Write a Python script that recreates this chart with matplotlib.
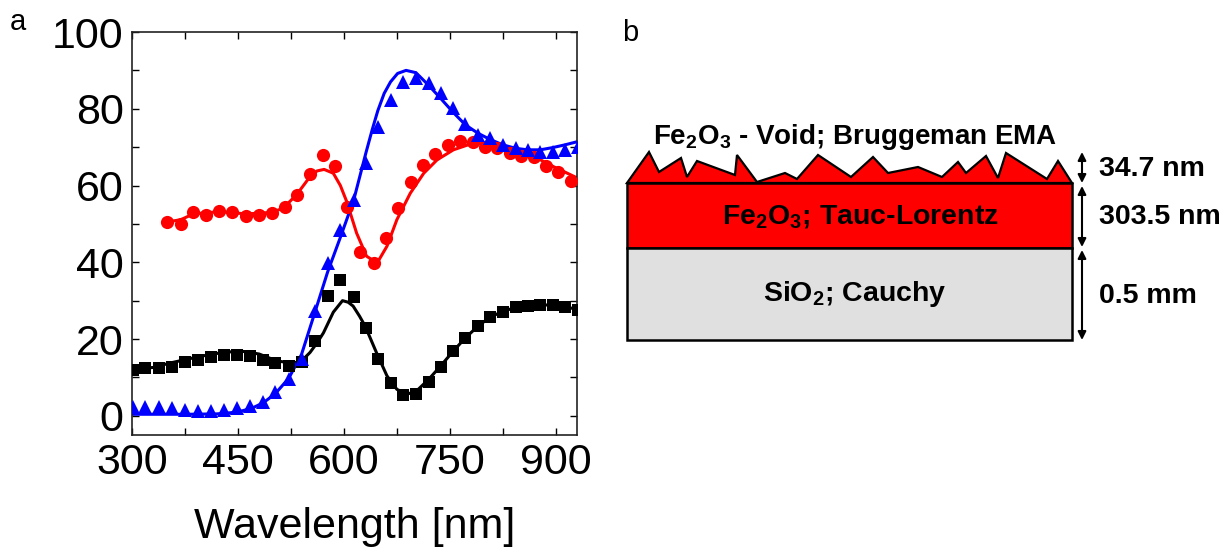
import matplotlib
matplotlib.use("Agg")
import matplotlib.pyplot as plt
from matplotlib.patches import Polygon, Rectangle

plt.rcParams['font.family'] = ['Liberation Sans', 'DejaVu Sans']
plt.rcParams['mathtext.fontset'] = 'custom'
plt.rcParams['mathtext.rm'] = 'Liberation Sans:bold'
plt.rcParams['mathtext.bf'] = 'Liberation Sans:bold'
plt.rcParams['mathtext.default'] = 'rm'

# --- panel a data ---
wl_pts = [301, 319, 338, 356, 375, 394, 412, 430, 449, 467, 486, 503, 522, 540, 559, 577, 595, 614,
          631, 648, 666, 684, 702, 720, 737, 754, 772, 790, 807, 825, 843, 860, 878, 896, 913, 931]
black_pts = [11.9, 12.4, 12.4, 12.7, 13.9, 14.5, 15.3, 15.8, 15.8, 15.6, 14.5, 13.7, 13.0, 13.9, 19.4, 31.2, 35.3, 31.0,
             22.9, 14.7, 8.5, 5.4, 5.8, 8.8, 12.7, 16.8, 20.3, 23.4, 25.7, 27.0, 28.4, 28.7, 29.0, 28.8, 28.4, 27.5]
blue_pts = [2.2, 2.2, 2.2, 2.0, 1.6, 1.3, 1.3, 1.6, 2.0, 2.6, 3.6, 6.2, 9.7, 14.9, 27.3, 39.8, 48.3, 56.3,
            65.8, 75.3, 82.4, 87.0, 88.1, 86.6, 84.0, 80.3, 76.0, 73.2, 72.3, 70.6, 69.7, 69.3, 68.8, 68.8, 69.3, 70.1]

wl_red = [350, 369, 387, 405, 423, 442, 461, 480, 498, 516, 534, 552, 570, 588, 605, 623, 642,
          659, 677, 695, 712, 729, 748, 765, 783, 800, 817, 835, 851, 869, 886, 903, 921]
red_pts = [50.5, 49.9, 53.0, 52.4, 53.3, 53.2, 52.1, 52.4, 52.8, 54.3, 57.6, 62.9, 68.0, 65.0, 54.5, 42.7, 39.8,
           46.3, 54.1, 60.9, 65.4, 68.1, 70.6, 71.7, 71.3, 70.1, 69.7, 68.6, 67.7, 67.5, 65.2, 63.6, 61.2]

wl_black_fit = [300, 330, 355, 377, 400, 425, 453, 480, 505, 520, 538, 552, 562, 571, 585, 598, 606, 613, 622,
                630, 646, 661, 675, 689, 703, 720, 737, 755, 772, 790, 807, 826, 845, 865, 885, 905, 930]
black_fit = [12.1, 12.6, 13.8, 14.7, 15.6, 16.4, 16.9, 16.1, 14.3, 13.9, 13.9, 16.5, 19.0, 21.6, 27.0, 30.0, 29.6, 28.6, 26.0,
             23.4, 16.5, 10.4, 6.9, 5.6, 6.5, 9.5, 13.0, 16.9, 20.3, 23.4, 25.7, 27.3, 28.3, 28.8, 28.9, 28.6, 27.8]

wl_red_fit = [350, 369, 387, 424, 462, 498, 514, 533, 552, 562, 572, 585, 595, 604, 618, 632, 647,
              661, 675, 694, 713, 732, 755, 779, 803, 827, 850, 874, 897, 930]
red_fit = [50.5, 51.1, 52.6, 53.2, 52.6, 53.0, 54.1, 57.6, 62.3, 63.8, 64.2, 63.2, 60.0, 55.8, 47.6, 41.6, 39.8,
           44.2, 51.1, 58.0, 63.2, 66.7, 69.3, 70.8, 71.0, 70.1, 68.8, 67.1, 64.9, 62.0]

wl_blue_fit = [300, 340, 380, 420, 440, 456, 470, 486, 503, 522, 540, 559, 577, 595, 614, 631, 640, 648, 657,
               666, 676, 688, 702, 720, 737, 754, 772, 790, 807, 825, 843, 860, 878, 896, 913, 930]
blue_fit = [0.4, 0.4, 0.4, 0.5, 0.8, 1.3, 2.0, 3.4, 5.8, 9.8, 16.0, 27.0, 37.5, 46.5, 56.3, 68.4, 74.5, 79.5, 84.0,
            87.0, 89.2, 90.0, 89.4, 86.1, 82.7, 79.2, 75.8, 73.6, 72.0, 70.6, 69.7, 69.3, 69.3, 69.9, 70.6, 71.4]

x_ticks = [300, 450, 600, 750, 900]
y_ticks = [0, 20, 40, 60, 80, 100]

# --- panel b layer stack (pixel frame of the right half) ---
stack_left, stack_right = 627, 1072
rough_top, film_top, film_bottom, sub_bottom = 152, 183, 248, 340
rough_x = [627, 649, 659, 681, 687, 697, 735, 737, 757, 785, 797, 818, 851, 873, 888, 918,
           942, 958, 966, 986, 998, 1006, 1047, 1058, 1072]
rough_y = [183, 152, 172, 158, 177, 161, 175, 155, 182, 173, 179, 155, 177, 157, 173, 167,
           177, 162, 173, 156, 178, 153, 179, 161, 183]
layer_labels = [r'Fe$_{2}$O$_{3}$ - Void; Bruggeman EMA', r'Fe$_{2}$O$_{3}$; Tauc-Lorentz', r'SiO$_{2}$; Cauchy']
thickness_labels = ['34.7 nm', '303.5 nm', '0.5 mm']

fig = plt.figure(figsize=(12.26, 5.48), dpi=100)

axb = fig.add_axes([600 / 1226, 0, 626 / 1226, 1])
axb.set_xlim(600, 1226)
axb.set_ylim(548, 0)
axb.axis('off')

ax = fig.add_axes([132 / 1226, 1 - 435 / 548, 445 / 1226, 403 / 548])

ax.plot(wl_black_fit, black_fit, color='k', lw=2.2, zorder=2)
ax.plot(wl_red_fit, red_fit, color='#ff0000', lw=2.2, zorder=2)
ax.plot(wl_blue_fit, blue_fit, color='#0000ff', lw=2.2, zorder=2)
ax.plot(wl_pts, black_pts, 's', color='k', ms=8, mew=0, zorder=3)
ax.plot(wl_red, red_pts, 'o', color='#ff0000', ms=9.5, mew=0, zorder=3)
ax.plot(wl_pts, blue_pts, '^', color='#0000ff', ms=10, mew=0, zorder=3)

ax.set_xlim(300, 930)
ax.set_ylim(-5, 100)
ax.set_xticks(x_ticks)
ax.set_yticks(y_ticks)
ax.set_xticks([375, 525, 675, 825], minor=True)
ax.set_yticks([10, 30, 50, 70, 90], minor=True)
ax.tick_params(which='both', direction='in', top=True, right=True, length=5, width=1.0, labelsize=31)
ax.tick_params(axis='x', pad=6)
ax.tick_params(axis='y', pad=6)
for s in ax.spines.values():
    s.set_linewidth(1.2)
    s.set_color('#222222')
ax.set_xlabel('Wavelength [nm]', fontsize=31, labelpad=17)

fig.text(18 / 1226, 1 - 22 / 548, 'a', fontsize=21, ha='center', va='center')
fig.text(630 / 1226, 1 - 33 / 548, 'b', fontsize=21, ha='center', va='center')

# panel b drawing
rough = Polygon(list(zip(rough_x, rough_y)), closed=True, facecolor='#ff0000', edgecolor='k', lw=1.6, joinstyle='miter')
axb.add_patch(rough)
axb.add_patch(Rectangle((stack_left, film_top), stack_right - stack_left, film_bottom - film_top,
                        facecolor='#ff0000', edgecolor='k', lw=1.8))
axb.add_patch(Rectangle((stack_left, film_bottom), stack_right - stack_left, sub_bottom - film_bottom,
                        facecolor='#e0e0e0', edgecolor='k', lw=1.8))

mid_x = 855
axb.text(mid_x, 137, layer_labels[0], fontsize=20, fontweight='bold', ha='center', va='center')
axb.text(mid_x + 5, 216, layer_labels[1], fontsize=20.5, fontweight='bold', ha='center', va='center')
axb.text(mid_x, 294, layer_labels[2], fontsize=20.5, fontweight='bold', ha='center', va='center')

arrow_x = 1082
spans = [(rough_top, film_top), (film_top + 3, film_bottom - 1), (film_bottom + 2, sub_bottom)]
for (y0, y1), lab in zip(spans, thickness_labels):
    axb.annotate('', xy=(arrow_x, y0), xytext=(arrow_x, y1),
                 arrowprops=dict(arrowstyle='<|-|>', color='k', lw=1.5, mutation_scale=12, shrinkA=0, shrinkB=0))
    axb.text(1099, (y0 + y1) / 2 + 1, lab, fontsize=20.5, fontweight='bold', ha='left', va='center')

fig.savefig('out.png', dpi=100)
